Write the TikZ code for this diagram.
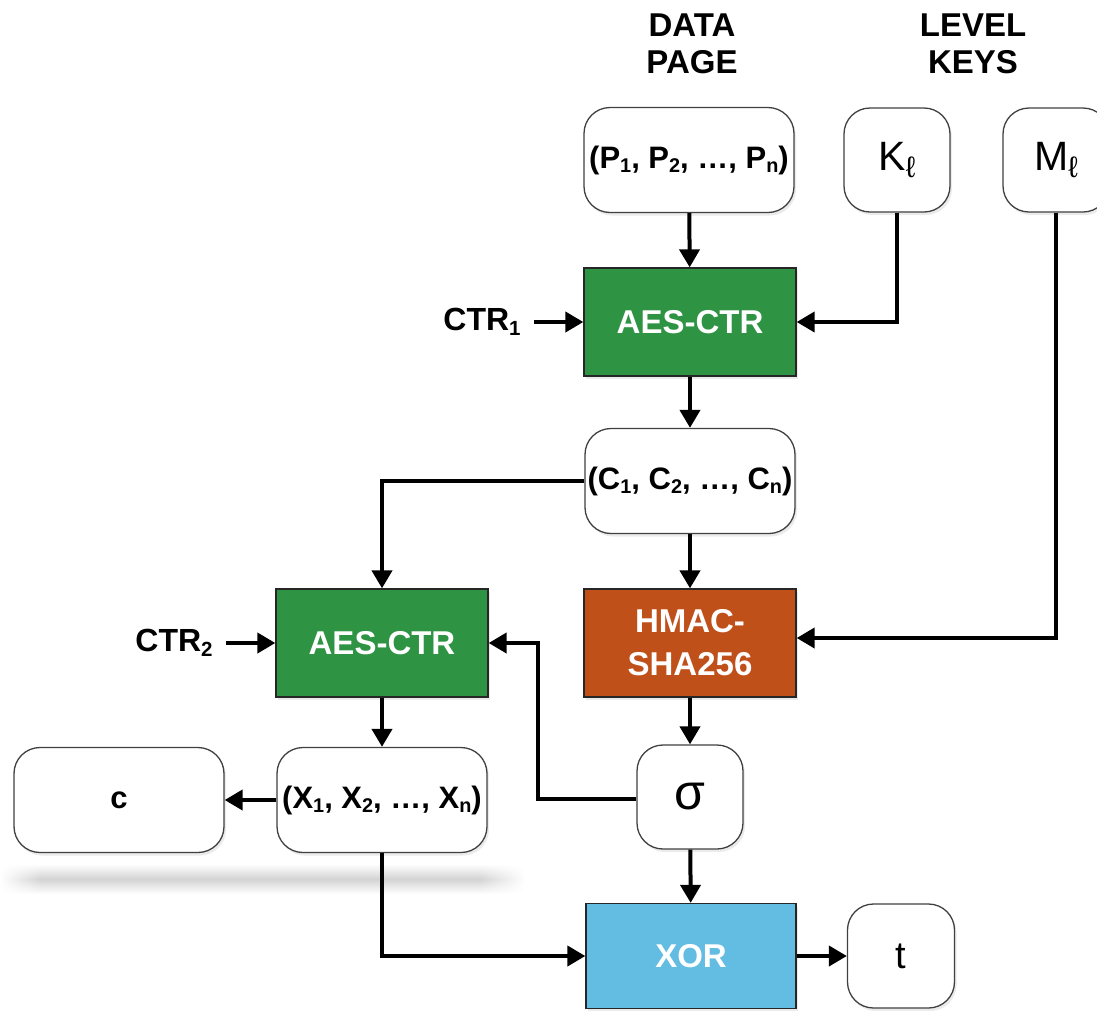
\documentclass[tikz,border=0pt]{standalone}
\usepackage{fontspec}
\usepackage{graphicx}
\setmainfont{Liberation Sans}
\usetikzlibrary{arrows.meta,shadows,fadings}
\definecolor{aesgreen}{RGB}{46,147,66}
\definecolor{hmacorange}{RGB}{192,80,26}
\definecolor{xorblue}{RGB}{99,188,226}
\newcommand\sbs[1]{\raisebox{-0.14em}{\scalebox{0.64}{#1}}}
\newcommand\sbl[1]{\raisebox{-0.16em}{\scalebox{0.72}{#1}}}
\tikzfading[name=fadeinleft, left color=transparent!100, right color=transparent!0]
\tikzfading[name=fadeoutright, left color=transparent!0, right color=transparent!100]
\tikzset{
  lbl/.style={font=\fontsize{33}{37}\selectfont\bfseries, align=center, inner sep=0pt},
  ctrlbl/.style={font=\fontsize{32}{37}\selectfont\bfseries, inner sep=0pt},
  shad/.style={drop shadow={opacity=0.16,shadow xshift=2pt,shadow yshift=-3pt}},
  rbox/.style={draw=black!75, line width=1.3pt, rounded corners=26pt, fill=white, inner sep=0pt, shad},
  widebox/.style={rbox, minimum width=210pt, minimum height=105pt, font=\fontsize{31}{36}\selectfont\bfseries},
  smallbox/.style={rbox, minimum width=106pt, minimum height=104pt, font=\fontsize{41}{44}\selectfont},
  sqbox/.style={draw=black!85, line width=1.3pt, minimum width=212pt, minimum height=108pt, inner sep=0pt, text=white, align=center, font=\fontsize{33}{43}\selectfont\bfseries, shad},
  band/.style={top color=white, bottom color=white, middle color=black!17},
  conn/.style={line width=4pt, -{Triangle[length=18pt,width=20pt]}},
}
\begin{document}
\begin{tikzpicture}[x=1pt,y=-1pt]
\useasboundingbox (0,0) rectangle (1097,1010);
% faint blurred shadow band
\shade[band] (40,864) rectangle (480,894);
\shade[band, path fading=fadeinleft] (0,864) rectangle (40,894);
\shade[band, path fading=fadeoutright] (480,864) rectangle (525,894);
% headers
\node[lbl] (dp) at (692,44) {DATA\\PAGE};
\node[lbl] (lk) at (973,44) {LEVEL\\KEYS};
% top row
\node[widebox] (P) at (689,160) {(P\sbs{1}, P\sbs{2}, …, P\sbs{n})};
\node[smallbox] (K) at (897,160) {K\sbl{ℓ}};
\node[smallbox] (M) at (1056,160) {M\sbl{ℓ}};
% AES-CTR 1
\node[sqbox, fill=aesgreen] (A1) at (690,322) {AES-CTR};
\node[ctrlbl] (ctr1) at (482,322) {CTR\sbs{1}};
% ciphertext
\node[widebox] (C) at (690,481) {(C\sbs{1}, C\sbs{2}, …, C\sbs{n})};
% AES-CTR 2 and HMAC
\node[sqbox, fill=aesgreen] (A2) at (382,643) {AES-CTR};
\node[ctrlbl] (ctr2) at (174,643) {CTR\sbs{2}};
\node[sqbox, fill=hmacorange] (H) at (690,643) {HMAC-\\SHA256};
% row 4
\node[widebox] (X) at (382,800) {(X\sbs{1}, X\sbs{2}, …, X\sbs{n})};
\node[widebox] (c) at (119,800) {c};
\node[smallbox, font=\fontsize{50}{54}\selectfont] (S) at (690,797) {σ};
\coordinate (sb) at (538,799);
% XOR and t
\node[sqbox, fill=xorblue, minimum width=210pt, minimum height=105pt] (XOR) at (691,956) {XOR};
\node[smallbox, minimum width=107pt, font=\fontsize{38}{42}\selectfont] (t) at (901,956) {t};
% connectors
\draw[conn] (P) -- (A1);
\draw[conn] (K.south) |- (A1.east);
\draw[conn, shorten <=13pt] (ctr1.east |- A1.west) -- (A1.west);
\draw[conn] (A1) -- (C);
\draw[conn] (C.west) -| (A2.north);
\draw[conn] (C) -- (H);
\draw[conn] (M.south) |- ([yshift=5pt]H.east);
\draw[conn, shorten <=13pt] (ctr2.east |- A2.west) -- (A2.west);
\draw[conn] (A2) -- (X);
\draw[conn] (X) -- (c);
\draw[conn] (H) -- (S);
\draw[conn] (S.west |- sb) -- (sb) |- (A2.east);
\draw[conn] (S) -- (XOR);
\draw[conn] (X.south) |- (XOR.west);
\draw[conn] (XOR) -- (t);
\end{tikzpicture}
\end{document}
